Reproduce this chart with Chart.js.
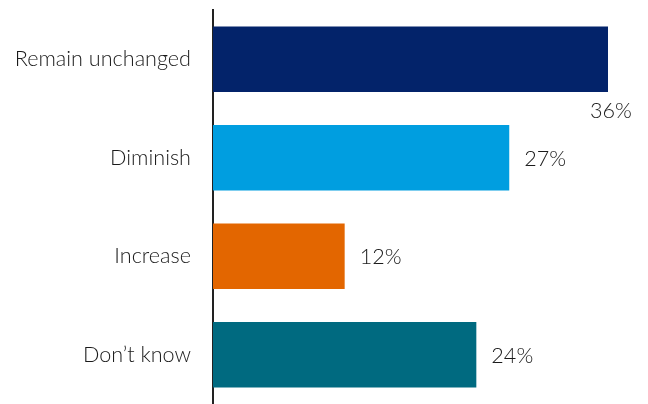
<!DOCTYPE html>
<html>
<head>
<meta charset="utf-8">
<script src="https://cdn.jsdelivr.net/npm/chart.js@4.4.0/dist/chart.umd.min.js"></script>
<style>
  html, body { margin: 0; padding: 0; background: #fff; }
  #wrap { width: 648px; height: 404px; }
</style>
</head>
<body>
<div id="wrap"><canvas id="chart_outlook" width="648" height="404"></canvas></div>
<script>
const categories = ['Remain unchanged', 'Diminish', 'Increase', 'Don\u2019t know'];
const values = [36, 27, 12, 24];
const barColors = ['#03236a', '#009ee0', '#e36600', '#006a80'];

const FONT = 'Lato, "Open Sans", sans-serif';
const FONT_SIZE = 21.6;
const TEXT_COLOR = '#1a1a1a';

// value labels next to each bar (first one sits under the bar end)
const valueLabels = {
    id: 'valueLabels',
    afterDatasetsDraw(chart) {
        const ctx = chart.ctx;
        const meta = chart.getDatasetMeta(0);
        ctx.save();
        ctx.font = '300 ' + FONT_SIZE + 'px ' + FONT;
        ctx.fillStyle = TEXT_COLOR;
        meta.data.forEach(function (bar, i) {
            const txt = values[i] + '%';
            ctx.textBaseline = 'middle';
            if (i === 0) {
                ctx.textAlign = 'center';
                ctx.fillText(txt, bar.x + 3, bar.y + bar.height / 2 + 19);
            } else {
                ctx.textAlign = 'left';
                ctx.fillText(txt, bar.x + 15, bar.y + 1);
            }
        });
        ctx.restore();
    }
};

new Chart(document.getElementById('chart_outlook'), {
    type: 'bar',
    data: {
        labels: categories,
        datasets: [{
            data: values,
            backgroundColor: barColors,
            borderWidth: 0,
            categoryPercentage: 1,
            barPercentage: 0.667
        }]
    },
    options: {
        indexAxis: 'y',
        responsive: false,
        animation: false,
        layout: { padding: { top: 10, right: 40, bottom: 0, left: 0 } },
        scales: {
            x: {
                display: false,
                min: 0,
                max: 36
            },
            y: {
                grid: { display: false, drawTicks: false },
                border: { display: true, color: '#222', width: 2 },
                ticks: {
                    color: TEXT_COLOR,
                    padding: 22,
                    font: { family: FONT, size: FONT_SIZE, weight: '300' }
                },
                afterFit: function (scale) {
                    scale.width = 213;
                    scale.paddingTop = 0;
                    scale.paddingBottom = 0;
                }
            }
        },
        plugins: {
            legend: { display: false },
            tooltip: { enabled: false }
        }
    },
    plugins: [valueLabels]
});
</script>
</body>
</html>
